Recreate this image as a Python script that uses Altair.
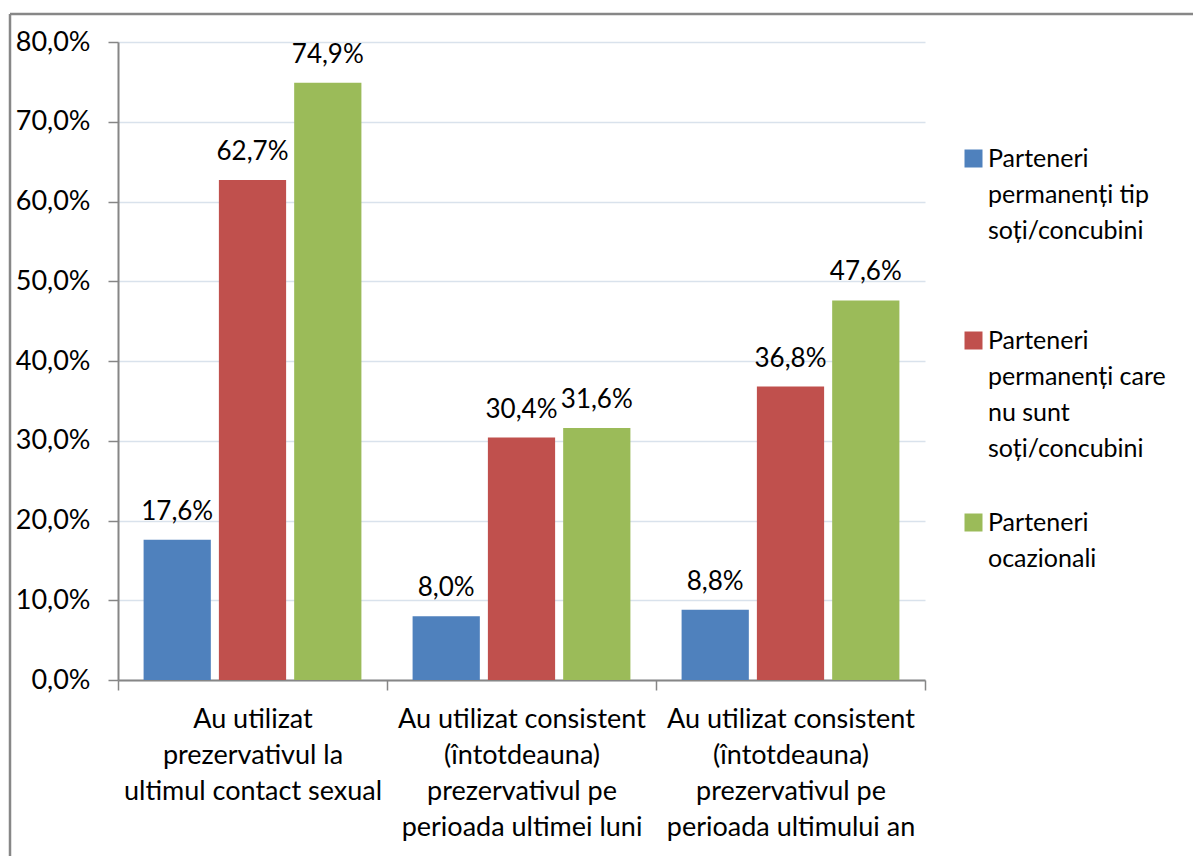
import altair as alt
import pandas as pd

categories = [
    "Au utilizat\nprezervativul la\nultimul contact sexual",
    "Au utilizat consistent\n(întotdeauna)\nprezervativul pe\nperioada ultimei luni",
    "Au utilizat consistent\n(întotdeauna)\nprezervativul pe\nperioada ultimului an",
]
series = [
    "Parteneri\npermanenți tip\nsoți/concubini",
    "Parteneri\npermanenți care\nnu sunt\nsoți/concubini",
    "Parteneri\nocazionali",
]
colors = ["#4F81BD", "#C0504D", "#9BBB59"]
values_s1 = [0.176, 0.080, 0.088]
values_s2 = [0.627, 0.304, 0.368]
values_s3 = [0.749, 0.316, 0.476]
y_ticks = [0.0, 0.1, 0.2, 0.3, 0.4, 0.5, 0.6, 0.7, 0.8]

rows = []
for s, vals in zip(series, [values_s1, values_s2, values_s3]):
    for c, v in zip(categories, vals):
        rows.append({"cat": c, "ser": s, "val": v})
df = pd.DataFrame(rows)

FONT = "Lato"
W, H = 807, 638

base = alt.Chart(df).encode(
    x=alt.X("cat:N", sort=categories,
            scale=alt.Scale(paddingInner=0, paddingOuter=0),
            axis=alt.Axis(title=None, labelAngle=0, tickBand="extent",
                          labelExpr="split(datum.label, '\\n')",
                          labelFont=FONT, labelFontSize=27, labelColor="#000000",
                          labelLineHeight=36, labelPadding=16, labelLimit=400,
                          domainColor="#868686", domainWidth=2,
                          tickColor="#868686", tickWidth=1.5, tickSize=10,
                          grid=False)),
    xOffset=alt.XOffset("ser:N", sort=series,
                        scale=alt.Scale(paddingInner=0.107, paddingOuter=0.34)),
    y=alt.Y("val:Q",
            scale=alt.Scale(domain=[0, 0.8], nice=False),
            axis=alt.Axis(title=None, values=y_ticks,
                          labelExpr="replace(format(datum.value, '.1%'), '.', ',')",
                          labelFont=FONT, labelFontSize=27, labelColor="#000000",
                          labelPadding=18, tickSize=10, tickColor="#868686",
                          tickWidth=1.5, domainColor="#868686", domainWidth=2,
                          gridColor="#D9E2EC", gridWidth=1.5)),
)

bars = base.mark_bar().encode(
    color=alt.Color("ser:N", sort=series,
                    scale=alt.Scale(domain=series, range=colors),
                    legend=alt.Legend(title=None, orient="none",
                                      legendX=843, legendY=104,
                                      labelExpr="split(datum.label, '\\n')",
                                      labelFont=FONT, labelFontSize=25,
                                      labelColor="#000000", labelLimit=400,
                                      labelOffset=2, labelBaseline="middle",
                                      symbolType="square", symbolSize=324,
                                      symbolStrokeWidth=0, padding=0,
                                      gridAlign="all", rowPadding=48))
)

labels = base.mark_text(font=FONT, fontSize=26, color="#000000",
                        baseline="alphabetic", dy=-20).encode(
    text=alt.Text("lbl:N")
).transform_calculate(lbl="replace(format(datum.val, '.1%'), '.', ',')")

frame_df = pd.DataFrame({"k": [0]})
frame_left = alt.Chart(frame_df).mark_rule(color="#878787", strokeWidth=2.5).encode(
    x=alt.value(-108), y=alt.value(-28), y2=alt.value(1000))
frame_top = alt.Chart(frame_df).mark_rule(color="#878787", strokeWidth=2.5).encode(
    x=alt.value(-108), x2=alt.value(1200), y=alt.value(-28))

chart = alt.layer(bars, labels, frame_left, frame_top).properties(
    width=W, height=H,
    autosize=alt.AutoSizeParams(type="none"),
    padding={"left": 110, "top": 34, "right": 268, "bottom": 176},
).configure(
    background="white",
    style={"guide-label": {"lineHeight": 36}},
).configure_view(stroke=None)

chart.save("out.html", embed_options={"renderer": "svg", "actions": False})
